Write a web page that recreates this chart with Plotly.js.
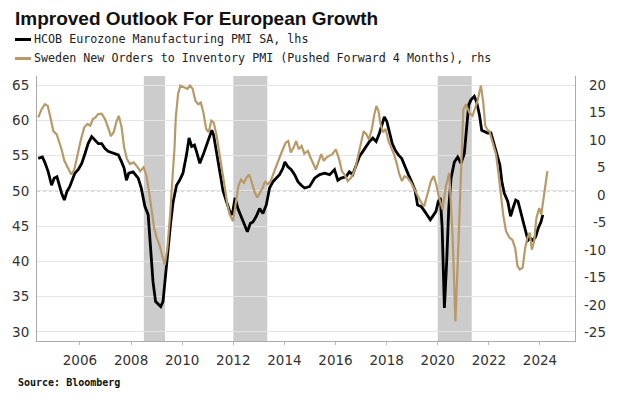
<!DOCTYPE html>
<html>
<head>
<meta charset="utf-8">
<script src="https://cdn.plot.ly/plotly-3.0.1.min.js"></script>
<style>
  html, body { margin: 0; padding: 0; background: #fff; }
  #chart { width: 620px; height: 398px; }
</style>
</head>
<body>
<div id="chart"></div>
<script>
// ---- Data (decimal years) ----
const pmiDates = [2004.37,2004.53,2004.63,2004.76,2004.89,2004.99,2005.10,2005.18,2005.28,2005.39,2005.49,2005.60,2005.70,2005.80,2005.93,
2006.07,2006.20,2006.32,2006.46,2006.59,2006.72,2006.85,2006.98,2007.10,2007.30,2007.50,2007.63,2007.73,2007.82,2007.91,
2008.08,2008.28,2008.40,2008.54,2008.67,2008.77,2008.86,2008.96,2009.06,2009.16,2009.25,2009.35,2009.45,2009.55,2009.65,2009.78,2009.90,
2010.03,2010.17,2010.27,2010.37,2010.48,2010.56,2010.69,2010.82,2010.95,2011.08,2011.16,2011.23,2011.34,2011.47,2011.60,2011.73,2011.86,2011.96,
2012.07,2012.18,2012.32,2012.44,2012.55,2012.67,2012.77,2012.90,2013.03,2013.16,2013.29,2013.42,2013.55,2013.68,2013.81,2013.94,
2014.02,2014.14,2014.27,2014.40,2014.53,2014.66,2014.79,2014.98,2015.18,2015.38,2015.57,2015.77,2015.96,
2016.09,2016.22,2016.41,2016.54,2016.67,2016.80,2016.94,2017.07,2017.19,2017.33,2017.46,2017.59,2017.72,2017.81,2017.91,
2018.01,2018.12,2018.22,2018.33,2018.46,2018.59,2018.72,2018.85,2018.98,2019.11,2019.21,2019.35,2019.45,2019.58,2019.71,2019.84,2019.93,
2020.02,2020.10,2020.17,2020.26,2020.35,2020.43,2020.52,2020.65,2020.78,2020.91,2021.04,2021.13,2021.21,2021.30,2021.43,2021.52,2021.63,2021.72,2021.82,2021.95,
2022.08,2022.21,2022.34,2022.43,2022.51,2022.60,2022.74,2022.85,2022.94,2023.05,2023.14,2023.24,2023.33,2023.44,2023.53,2023.62,2023.72,2023.83,2023.93,
2024.04,2024.11];
const pmiValues = [54.6,54.8,54.0,52.7,50.8,51.8,52.0,50.8,49.7,48.7,49.9,50.6,51.5,52.5,53.0,
53.9,55.3,56.7,57.7,57.2,56.7,56.7,56.0,55.6,55.3,55.1,54.1,53.2,51.5,52.5,
52.7,51.8,50.4,47.8,46.6,41.9,37.1,34.3,33.9,33.6,34.3,38.1,42.3,45.5,48.5,50.8,51.5,
52.5,55.1,57.5,56.3,56.5,55.6,53.9,55.1,56.5,57.7,58.6,57.9,55.6,52.3,50.0,48.5,47.1,46.6,
49.0,47.5,46.1,45.2,44.2,45.4,45.6,46.4,47.5,46.8,48.0,50.4,51.3,51.8,52.3,53.2,
54.1,53.4,53.0,52.3,51.3,50.8,50.4,50.6,51.8,52.3,52.5,52.3,53.0,
51.5,51.8,52.0,52.7,52.3,53.7,54.9,55.6,56.3,57.0,57.5,57.0,58.2,59.3,60.5,
59.8,58.2,56.7,55.8,55.1,54.6,53.4,52.3,51.3,50.1,48.0,47.8,47.3,46.6,45.9,46.6,47.1,
48.5,49.0,45.0,33.4,40.0,47.5,51.8,54.1,54.8,53.9,55.3,59.3,62.2,62.9,63.4,62.6,60.8,58.6,58.4,58.2,
58.2,56.5,55.1,53.7,51.3,49.7,48.5,46.4,47.5,48.7,48.5,47.1,45.6,44.2,43.0,43.3,43.0,43.5,44.7,
45.6,46.6];

const swedenDates = [2004.37,2004.50,2004.63,2004.74,2004.83,2004.96,2005.09,2005.18,2005.28,2005.39,2005.52,2005.66,2005.78,2005.91,
2006.04,2006.17,2006.30,2006.40,2006.51,2006.61,2006.71,2006.85,2006.98,2007.10,2007.21,2007.32,2007.42,2007.52,2007.63,2007.73,2007.84,2007.96,
2008.10,2008.23,2008.36,2008.49,2008.59,2008.70,2008.80,2008.90,2009.00,2009.11,2009.21,2009.32,2009.42,2009.53,2009.63,2009.70,2009.75,2009.84,2009.93,
2010.06,2010.20,2010.31,2010.41,2010.52,2010.63,2010.73,2010.83,2010.94,2011.04,2011.14,2011.23,2011.34,2011.45,2011.56,2011.67,2011.77,2011.86,2011.99,
2012.09,2012.20,2012.30,2012.42,2012.51,2012.62,2012.73,2012.84,2012.94,2013.05,2013.15,2013.25,2013.34,2013.46,2013.55,2013.68,2013.81,2013.94,
2014.05,2014.15,2014.25,2014.36,2014.46,2014.56,2014.67,2014.78,2014.92,2015.02,2015.13,2015.23,2015.33,2015.44,2015.54,2015.64,2015.75,2015.88,
2016.01,2016.14,2016.25,2016.35,2016.48,2016.61,2016.76,2016.87,2017.00,2017.10,2017.21,2017.31,2017.42,2017.52,2017.60,2017.68,2017.76,2017.86,2017.96,
2018.07,2018.19,2018.29,2018.40,2018.50,2018.60,2018.70,2018.82,2018.96,2019.09,2019.21,2019.35,2019.47,2019.60,2019.73,2019.84,2019.94,
2020.05,2020.19,2020.32,2020.45,2020.58,2020.69,2020.80,2020.90,2021.00,2021.10,2021.23,2021.36,2021.55,2021.69,2021.78,2021.86,2021.95,
2022.02,2022.14,2022.28,2022.38,2022.47,2022.56,2022.67,2022.80,2022.92,2023.03,2023.12,2023.21,2023.32,2023.42,2023.51,2023.60,2023.68,2023.77,2023.86,2023.97,
2024.05,2024.20,2024.29];
const swedenValues = [14.1,15.6,16.5,16.2,14.4,11.6,11.0,9.8,8.3,6.2,5.0,3.7,4.6,7.4,
10.1,12.3,12.9,12.6,13.8,14.1,14.7,14.8,13.8,12.3,10.7,11.4,13.2,14.4,12.3,8.6,6.5,5.6,
5.9,5.2,4.3,5.0,3.7,0.7,-2.9,-6.0,-7.8,-9.1,-10.9,-12.8,-9.7,-3.6,3.7,8.5,14.1,18.4,19.9,
19.6,19.3,19.9,19.3,17.1,16.5,16.8,15.0,12.0,11.4,13.5,13.2,11.0,8.0,4.3,1.3,-1.8,-3.6,-4.8,
-1.8,1.6,2.8,2.2,3.1,3.7,2.2,0.4,-0.5,0.4,1.3,2.5,1.9,2.5,3.7,5.2,6.8,8.3,
9.5,9.8,7.7,8.6,9.8,8.3,8.9,7.5,8.0,6.8,5.6,4.6,5.9,7.4,6.2,6.8,7.1,7.4,
8.3,6.5,4.3,3.7,2.5,3.1,4.6,7.1,9.5,11.6,11.0,10.1,12.0,14.7,16.2,15.3,12.9,11.4,12.0,
9.8,8.3,7.4,5.6,3.7,2.5,3.4,3.1,2.2,1.0,-0.2,-1.4,-2.1,0.1,2.5,3.4,1.9,
-0.5,-2.7,1.6,4.0,-7.5,-23.1,-10.0,3.0,15.5,16.5,15.0,14.4,17.0,19.9,16.8,12.6,11.8,
11.6,9.8,7.4,3.7,0.1,-3.6,-6.6,-7.8,-8.2,-9.7,-13.0,-13.6,-13.3,-9.7,-7.8,-6.9,-10.0,-8.5,-4.2,-2.4,
-3.6,1.3,4.3];

const recessionStart = [2008.50, 2012.00, 2020.00];
const recessionEnd   = [2009.33, 2013.33, 2021.33];

const leftTicks  = [30, 35, 40, 45, 50, 55, 60, 65];
const rightTicks = [20, 15, 10, 5, 0, -5, -10, -15, -20, -25];
const xTickYears = [2006, 2008, 2010, 2012, 2014, 2016, 2018, 2020, 2022, 2024];
const refLevel = 50;

const titleText  = 'Improved Outlook For European Growth';
const legendPmi  = 'HCOB Eurozone Manufacturing PMI SA, lhs';
const legendSwe  = 'Sweden New Orders to Inventory PMI (Pushed Forward 4 Months), rhs';
const sourceText = 'Source: Bloomberg';

// ---- Styling ----
const BLACK = '#000000';
const GOLD = '#b89a68';
const TICKFONT = {family: 'DejaVu Sans', size: 13.5, color: '#333333'};
const MONO = 'DejaVu Sans Mono';

// plot area in pixels
const W = 620, H = 398, ML = 37, MR = 45, MT = 76, MB = 57;
const PW = W - ML - MR, PH = H - MT - MB;
const px = x => (x - ML) / PW;          // page px -> paper x
const py = y => (H - MB - y) / PH;      // page px -> paper y

const traces = [
  {x: swedenDates, y: swedenValues, type: 'scatter', mode: 'lines', yaxis: 'y2',
   line: {color: GOLD, width: 2.2}, name: legendSwe, hoverinfo: 'skip'},
  {x: pmiDates, y: pmiValues, type: 'scatter', mode: 'lines', yaxis: 'y',
   line: {color: BLACK, width: 2.8}, name: legendPmi, hoverinfo: 'skip'}
];

const shapes = [];
recessionStart.forEach((s, i) => shapes.push({
  type: 'rect', xref: 'x', yref: 'paper', x0: s, x1: recessionEnd[i], y0: 0, y1: 1,
  fillcolor: '#cccccc', line: {width: 0}, layer: 'below'
}));
shapes.push({type: 'line', xref: 'paper', yref: 'y', x0: 0, x1: 1, y0: refLevel, y1: refLevel,
  line: {color: '#9a9a9a', width: 1, dash: '3px,3px'}, layer: 'between'});
// legend keys
shapes.push({type: 'line', xref: 'paper', yref: 'paper', x0: px(15), x1: px(31), y0: py(39.5), y1: py(39.5),
  line: {color: BLACK, width: 3}});
shapes.push({type: 'line', xref: 'paper', yref: 'paper', x0: px(15), x1: px(31), y0: py(58.5), y1: py(58.5),
  line: {color: GOLD, width: 3}});

const annotations = [
  {text: '<b>' + titleText + '</b>', xref: 'paper', yref: 'paper', x: px(13), y: py(18),
   xanchor: 'left', yanchor: 'middle', showarrow: false,
   font: {family: 'Liberation Sans', size: 19, color: '#111111'}},
  {text: legendPmi, xref: 'paper', yref: 'paper', x: px(32), y: py(39.5),
   xanchor: 'left', yanchor: 'middle', showarrow: false,
   font: {family: MONO, size: 11.7, color: '#222222'}},
  {text: legendSwe, xref: 'paper', yref: 'paper', x: px(32), y: py(58.5),
   xanchor: 'left', yanchor: 'middle', showarrow: false,
   font: {family: MONO, size: 11.7, color: '#222222'}},
  {text: '<b>' + sourceText + '</b>', xref: 'paper', yref: 'paper', x: px(16), y: py(382),
   xanchor: 'left', yanchor: 'middle', showarrow: false,
   font: {family: MONO, size: 10, color: '#111111'}}
];
rightTicks.forEach(v => annotations.push({
  text: String(v), xref: 'paper', yref: 'y2', x: px(608), y: v,
  xanchor: 'right', yanchor: 'middle', showarrow: false, font: TICKFONT
}));

const layout = {
  width: W, height: H,
  margin: {l: ML, r: MR, t: MT, b: MB, pad: 0},
  paper_bgcolor: '#ffffff', plot_bgcolor: '#ffffff',
  showlegend: false,
  xaxis: {
    type: 'linear', range: [2004.32, 2025.37],
    tickvals: xTickYears, ticktext: xTickYears.map(String),
    ticks: 'outside', ticklen: 3, tickcolor: '#bbbbbb', tickwidth: 1,
    showline: true, linecolor: '#aaaaaa', linewidth: 1,
    showgrid: false, zeroline: false, tickfont: TICKFONT, ticklabelstandoff: 4
  },
  yaxis: {
    range: [28.72, 66.28], tickvals: leftTicks, ticktext: leftTicks.map(String),
    showgrid: true, gridcolor: '#e4e4e4', gridwidth: 1,
    showline: true, linecolor: '#aaaaaa', linewidth: 1,
    ticks: '', zeroline: false, tickfont: TICKFONT, ticklabelstandoff: 4
  },
  yaxis2: {
    overlaying: 'y', side: 'right', range: [-26.64, 21.65],
    showgrid: false, zeroline: false, showline: true, linecolor: '#aaaaaa', linewidth: 1,
    showticklabels: false, ticks: ''
  },
  shapes: shapes,
  annotations: annotations
};

Plotly.newPlot('chart', traces, layout, {staticPlot: true, displayModeBar: false});
</script>
</body>
</html>
